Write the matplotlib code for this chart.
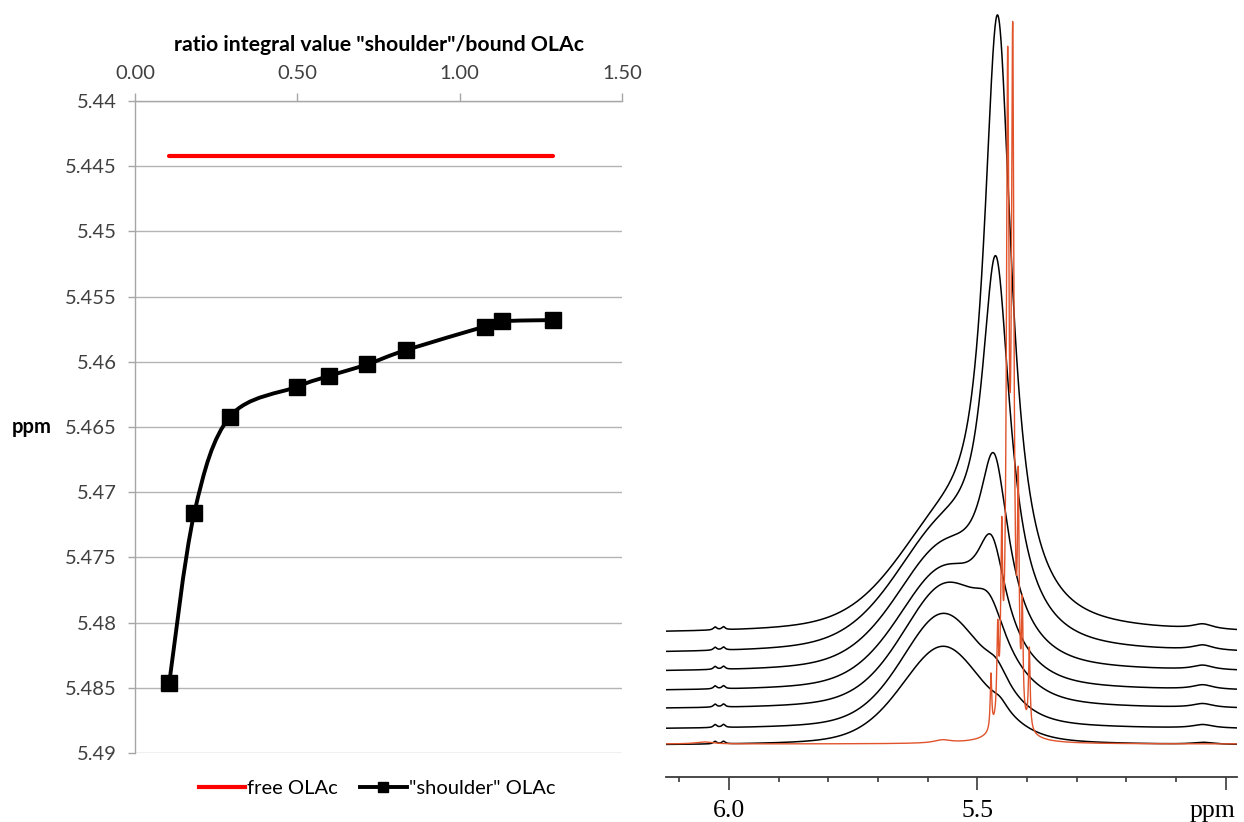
import numpy as np
import matplotlib

matplotlib.use("Agg")
import matplotlib.pyplot as plt
from matplotlib.path import Path
from matplotlib.patches import PathPatch
from matplotlib.lines import Line2D
from matplotlib.ticker import MultipleLocator, FixedLocator

# ---- left: shift of the "shoulder" signal vs integral ratio ----
ratio = [0.1056, 0.1826, 0.2926, 0.5005, 0.596, 0.7145, 0.8346, 1.0767, 1.1297, 1.287]
shoulder_ppm = [5.4846, 5.4716, 5.4642, 5.4619, 5.4611, 5.4602, 5.4591, 5.4573, 5.4569, 5.4568]
free_ppm = [5.4442] * len(ratio)
y_ticks = [5.44, 5.445, 5.45, 5.455, 5.46, 5.465, 5.47, 5.475, 5.48, 5.485, 5.49]
x_ticks = [0.0, 0.5, 1.0, 1.5]

# ---- right: stacked 1H spectra (peak lists, ppm / height / half width) ----
offsets = [-1.5, 14.5, 34.5, 52.5, 71.5, 90.0, 110.0]
broad_ppm = [5.569, 5.569, 5.565, 5.569, 5.569, 5.569, 5.569]
broad_amp = [99.0, 114.8, 119.4, 115.8, 116.6, 111.4, 93.4]
broad_hw = [0.10, 0.10, 0.105, 0.11, 0.115, 0.12, 0.12]
sharp_ppm = [5.454, 5.461, 5.475, 5.471, 5.466, 5.4625, 5.459]
sharp_amp = [8.0, 18.8, 44.0, 90.0, 152.9, 334.3, 567.3]
sharp_hw = [0.020, 0.030, 0.040, 0.035, 0.035, 0.034, 0.033]
minor_ppm = [5.046, 6.028, 6.011]
minor_hw = [0.025, 0.004, 0.004]
minor_amp = [[2.0, 3.5, 4.0, 4.5, 4.5, 5.0, 5.0],
             [2.5, 3.0, 3.0, 3.0, 3.0, 3.0, 3.0],
             [2.5, 3.0, 3.0, 3.0, 3.0, 3.0, 3.0]]

free_peaks_ppm = [5.4725, 5.459, 5.451, 5.4389, 5.4288, 5.4176, 5.4095, 5.3954, 5.43, 5.57, 6.05]
free_peaks_amp = [55, 85, 165, 625, 650, 205, 105, 80, 12, 3, 2]
free_peaks_hw = [0.0018, 0.0020, 0.0022, 0.0030, 0.0030, 0.0020, 0.0018, 0.0020, 0.03, 0.02, 0.02]


def lorentz(x, c, h, w):
    return h / (1.0 + ((x - c) / w) ** 2)


def pvoigt(x, c, h, w, eta=0.35):
    # Lorentzian/Gaussian mix sharing one half width
    g = np.exp(-np.log(2) * ((x - c) / w) ** 2)
    return h * (eta / (1.0 + ((x - c) / w) ** 2) + (1 - eta) * g)


def smooth_path(xs, ys):
    # Bezier segments through the points, spreadsheet-style smoothing
    pts = np.column_stack([xs, ys])
    n = len(pts)
    verts = [pts[0]]
    codes = [Path.MOVETO]
    for i in range(n - 1):
        p0 = pts[max(i - 1, 0)]
        p1 = pts[i]
        p2 = pts[i + 1]
        p3 = pts[min(i + 2, n - 1)]
        c1 = p1 + (p2 - p0) / 6.0
        c2 = p2 - (p3 - p1) / 6.0
        verts += [c1, c2, p2]
        codes += [Path.CURVE4] * 3
    return Path(verts, codes)


fig = plt.figure(figsize=(12.44, 8.22), dpi=100)
W, H = 1244.0, 822.0

sans = "Lato"
grey = "#a6a6a6"
fs = 14.5

ax = fig.add_axes([135 / W, 1 - 753 / H, 487 / W, 652 / H])
ax.set_xlim(0, 1.5)
ax.set_ylim(5.49, 5.44)
ax.xaxis.tick_top()
ax.xaxis.set_label_position("top")
ax.set_xticks(x_ticks)
ax.set_xticklabels(["%.2f" % v for v in x_ticks], fontfamily=sans, fontsize=fs, color="#404040")
ax.set_yticks(y_ticks)
ax.set_yticklabels([("%.3f" % v).rstrip("0") for v in y_ticks], fontfamily=sans, fontsize=fs, color="#404040")
ax.tick_params(axis="x", direction="out", length=6, width=1, color=grey, pad=8)
ax.tick_params(axis="y", direction="out", length=5, width=1, color=grey, pad=8)
ax.yaxis.grid(True, color="#b4b4b4", linewidth=1.0)
ax.set_axisbelow(True)
for s in ("right", "bottom"):
    ax.spines[s].set_visible(False)
for s in ("left", "top"):
    ax.spines[s].set_color(grey)
    ax.spines[s].set_linewidth(1.0)

ax.set_xlabel('ratio integral value "shoulder"/bound OLAc', fontfamily=sans,
              fontweight="bold", fontsize=15.3, labelpad=10)
ax.set_ylabel("ppm", fontfamily=sans, fontweight="bold", fontsize=fs, rotation=0,
              ha="center", va="center")
ax.yaxis.set_label_coords(-103 / 487, 0.5)

ax.plot(ratio, free_ppm, color="#ff0000", linewidth=3.0, solid_capstyle="round", zorder=3)
ax.add_patch(PathPatch(smooth_path(ratio, shoulder_ppm), facecolor="none",
                       edgecolor="black", linewidth=2.8, zorder=4))
ax.plot(ratio, shoulder_ppm, linestyle="none", marker="s", markersize=11,
        color="black", zorder=5)

handles = [Line2D([], [], color="#ff0000", linewidth=3.0),
           Line2D([], [], color="black", linewidth=2.8, marker="s", markersize=7.5)]
fig.legend(handles, ["free OLAc", '"shoulder" OLAc'], loc="center",
           bbox_to_anchor=(377 / W, 1 - 788 / H), ncol=2, frameon=False,
           prop={"family": sans, "size": fs}, handlelength=2.3,
           handletextpad=0.12, columnspacing=1.1)

# ---- right panel ----
ax2 = fig.add_axes([666 / W, 1 - 776.7 / H, 571 / W, 776.7 / H])
ax2.set_xlim(6.1268, 4.9772)
ax2.set_ylim(-32.7, 744)
for s in ("left", "right", "top"):
    ax2.spines[s].set_visible(False)
ax2.spines["bottom"].set_color("#3a3a3a")
ax2.spines["bottom"].set_linewidth(1.3)
ax2.set_yticks([])
ax2.xaxis.set_major_locator(FixedLocator([6.0, 5.5, 5.0]))
ax2.xaxis.set_minor_locator(MultipleLocator(0.1))
ax2.set_xticklabels(["6.0", "5.5", ""], fontfamily="Liberation Serif", fontsize=18.5)
ax2.tick_params(axis="x", which="major", direction="out", length=9, width=1.2,
                color="#3a3a3a", pad=8)
ax2.tick_params(axis="x", which="minor", direction="out", length=3.5, width=1.2,
                color="#3a3a3a")
fig.text(1213 / W, 1 - 811 / H, "ppm", fontfamily="Liberation Serif", fontsize=18.5,
         ha="center", va="center")

ppm = np.linspace(6.13, 4.97, 8000)
for i in range(len(offsets)):
    spec = np.full_like(ppm, offsets[i])
    spec += pvoigt(ppm, broad_ppm[i], broad_amp[i], broad_hw[i])
    spec += lorentz(ppm, sharp_ppm[i], sharp_amp[i], sharp_hw[i])
    for k in range(len(minor_ppm)):
        spec += lorentz(ppm, minor_ppm[k], minor_amp[k][i], minor_hw[k])
    ax2.plot(ppm, spec, color="black", linewidth=1.1, zorder=2)

free = np.zeros_like(ppm)
for c, h, w in zip(free_peaks_ppm, free_peaks_amp, free_peaks_hw):
    free += lorentz(ppm, c, h, w)
ax2.plot(ppm, free, color="#e0532b", linewidth=1.0, zorder=3)

fig.savefig("out.png", dpi=100)
